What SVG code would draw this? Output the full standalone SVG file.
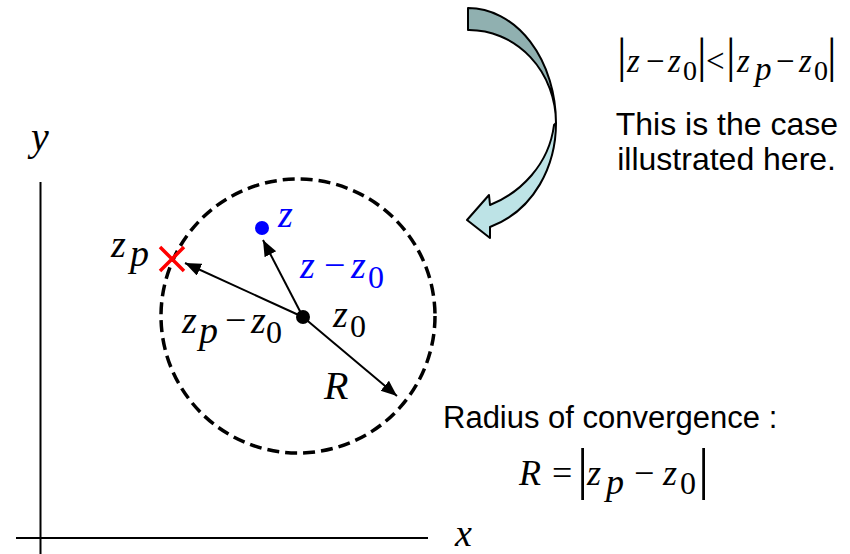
<svg xmlns="http://www.w3.org/2000/svg" width="850" height="554" viewBox="0 0 850 554">
<style>
.m{font-family:"Liberation Serif","Times New Roman",serif;font-style:italic}
.u{font-family:"Liberation Serif","Times New Roman",serif;font-style:normal}
.s{font-family:"Liberation Sans",Arial,sans-serif;fill:#000}
.ax{stroke:#000;stroke-width:2;fill:none}
.vec{stroke:#000;stroke-width:2;fill:none;marker-end:url(#ah)}
.blue{fill:#0000FF}
</style>
<defs>
<marker id="ah" markerUnits="userSpaceOnUse" markerWidth="18" markerHeight="14" refX="16" refY="6.5" orient="auto">
<path d="M0,0 L16,6.5 L0,13 Z" fill="#000"/>
</marker>
</defs>
<rect width="850" height="554" fill="#fff"/>

<g id="axes">
<line class="ax" x1="40.5" y1="182" x2="40.5" y2="554"/>
<line class="ax" x1="16" y1="538" x2="428" y2="538"/>
<text class="m" x="31" y="150" font-size="40">y</text>
<text class="m" x="455" y="546" font-size="38">x</text>
</g>

<g id="circle">
<circle cx="298" cy="316" r="137" fill="none" stroke="#000" stroke-width="3.5" stroke-dasharray="12 6"/>
</g>

<g id="connectors">
<line class="vec" x1="303" y1="317" x2="185" y2="263"/>
<line class="vec" x1="303" y1="317" x2="263" y2="240"/>
<line class="vec" x1="303" y1="317" x2="397" y2="396"/>
</g>

<g id="z0">
<circle cx="303" cy="317" r="7" fill="#000"/>
<text class="m" font-size="38"><tspan x="333" y="327">z</tspan><tspan class="u" x="350" y="337" font-size="32">0</tspan></text>
</g>

<g id="z">
<circle cx="262" cy="228" r="7" fill="#0000FF"/>
<text class="m blue" x="278" y="227" font-size="38">z</text>
</g>

<g id="zp">
<path d="M160,247 L184,271 M184,247 L160,271" stroke="#FF0000" stroke-width="3.5" fill="none"/>
<text class="m" font-size="38"><tspan x="111" y="257">z</tspan><tspan x="130" y="266">p</tspan></text>
</g>

<g id="label-z-z0">
<text class="m blue" font-size="38"><tspan x="300" y="278">z</tspan><tspan class="u" x="324" y="278">−</tspan><tspan x="351" y="278">z</tspan><tspan class="u" x="368" y="288" font-size="32">0</tspan></text>
</g>

<g id="label-zp-z0">
<text class="m" font-size="38"><tspan x="182" y="333">z</tspan><tspan x="199" y="343">p</tspan><tspan class="u" x="225" y="333">−</tspan><tspan x="251" y="333">z</tspan><tspan class="u" x="266" y="343" font-size="32">0</tspan></text>
</g>

<g id="label-R">
<text class="m" x="324" y="399" font-size="40">R</text>
</g>

<g id="curved-arrow">
<path d="M468,8 A88,115 0 0 1 556,123 A87,93 0 0 0 468,30 Z" fill="#90B0B0" stroke="#000" stroke-width="2" stroke-linejoin="round"/>
<path d="M556,123 C556,165 535,210 490,227 L490,238 L467,220 L489,195 L490,205 C520,193 549,165 554,125 Z" fill="#BDE3E6" stroke="#000" stroke-width="2" stroke-linejoin="round"/>
</g>

<g id="condition">
<text class="m" font-size="33"><tspan class="u" x="617" y="72" font-size="48">|</tspan><tspan x="627" y="72">z</tspan><tspan class="u" x="646" y="72">−</tspan><tspan x="668" y="72">z</tspan><tspan class="u" x="683" y="80" font-size="28">0</tspan><tspan class="u" x="697" y="72" font-size="48">|</tspan><tspan class="u" x="706" y="72">&lt;</tspan><tspan class="u" x="726" y="72" font-size="48">|</tspan><tspan x="737" y="72">z</tspan><tspan x="755" y="80">p</tspan><tspan class="u" x="776" y="72">−</tspan><tspan x="799" y="72">z</tspan><tspan class="u" x="814" y="80" font-size="28">0</tspan><tspan class="u" x="827" y="72" font-size="48">|</tspan></text>
<text class="s" x="838" y="135" font-size="32" text-anchor="end">This is the case</text>
<text class="s" x="836" y="170" font-size="32" text-anchor="end">illustrated here.</text>
</g>

<g id="radius">
<text class="s" x="443" y="428" font-size="31">Radius of convergence :</text>
<text class="m" font-size="36"><tspan x="519" y="485">R</tspan><tspan class="u" x="552" y="485">=</tspan><tspan class="u" x="577" y="488" font-size="56">|</tspan><tspan x="587" y="485">z</tspan><tspan x="606" y="494">p</tspan><tspan class="u" x="634" y="485">−</tspan><tspan x="663" y="485">z</tspan><tspan class="u" x="680" y="494" font-size="32">0</tspan><tspan class="u" x="698" y="488" font-size="56">|</tspan></text>
</g>
</svg>
